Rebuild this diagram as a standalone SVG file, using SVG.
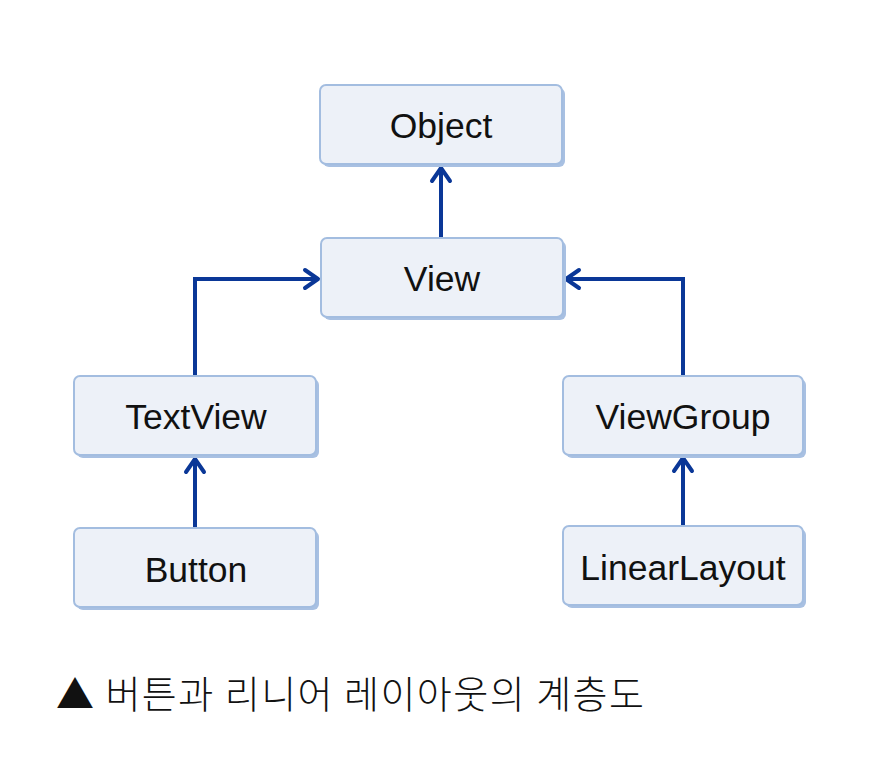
<svg xmlns="http://www.w3.org/2000/svg" width="869" height="759" viewBox="0 0 869 759">
<style>
.shadow{fill:#a8c0e2;}
.box{fill:#edf1f8;stroke:#a3bde0;stroke-width:2;}
.lbl{font-family:"Liberation Sans","Noto Sans CJK KR",sans-serif;font-size:35.5px;fill:#111;text-anchor:middle;}
.cap{font-family:"Noto Sans CJK KR","Liberation Sans",sans-serif;font-size:38px;font-weight:300;letter-spacing:1.5px;fill:#111;}
.tri{fill:#000;}
.conn{fill:none;stroke:#0a3797;stroke-width:4;stroke-linejoin:miter;}
.head{fill:none;stroke:#0a3797;stroke-width:4;stroke-linecap:round;stroke-linejoin:round;}
</style>
<rect width="869" height="759" fill="#ffffff"/>
<g id="connectors">
  <path class="conn" d="M441 238 V170"/>
  <path class="head" d="M432 181 L441 168 L450 181"/>
  <path class="conn" d="M195 376 V279 H316"/>
  <path class="head" d="M305 270 L318 279 L305 288"/>
  <path class="conn" d="M683 376 V279 H568"/>
  <path class="head" d="M579 270 L566 279 L579 288"/>
  <path class="conn" d="M195 528 V461"/>
  <path class="head" d="M186 472 L195 459 L204 472"/>
  <path class="conn" d="M683 526 V460"/>
  <path class="head" d="M674 471 L683 458 L692 471"/>
</g>
<g id="node-object">
  <rect class="shadow" x="323" y="88" width="242" height="79" rx="6"/>
  <rect class="box" x="320" y="85" width="242" height="79" rx="6"/>
  <text class="lbl" x="441" y="138">Object</text>
</g>
<g id="node-view">
  <rect class="shadow" x="324" y="241" width="242" height="79" rx="6"/>
  <rect class="box" x="321" y="238" width="242" height="79" rx="6"/>
  <text class="lbl" x="442" y="291">View</text>
</g>
<g id="node-textview">
  <rect class="shadow" x="77" y="379" width="242" height="79" rx="6"/>
  <rect class="box" x="74" y="376" width="242" height="79" rx="6"/>
  <text class="lbl" x="196" y="429">TextView</text>
</g>
<g id="node-button">
  <rect class="shadow" x="77" y="531" width="242" height="79" rx="6"/>
  <rect class="box" x="74" y="528" width="242" height="79" rx="6"/>
  <text class="lbl" x="196" y="582">Button</text>
</g>
<g id="node-viewgroup">
  <rect class="shadow" x="566" y="379" width="240" height="79" rx="6"/>
  <rect class="box" x="563" y="376" width="240" height="79" rx="6"/>
  <text class="lbl" x="683" y="429">ViewGroup</text>
</g>
<g id="node-linearlayout">
  <rect class="shadow" x="566" y="529" width="240" height="79" rx="6"/>
  <rect class="box" x="563" y="526" width="240" height="79" rx="6"/>
  <text class="lbl" x="683" y="580">LinearLayout</text>
</g>
<g id="caption">
  <text class="cap" x="56" y="708">▲ 버튼과 리니어 레이아웃의 계층도</text>
</g>
</svg>
